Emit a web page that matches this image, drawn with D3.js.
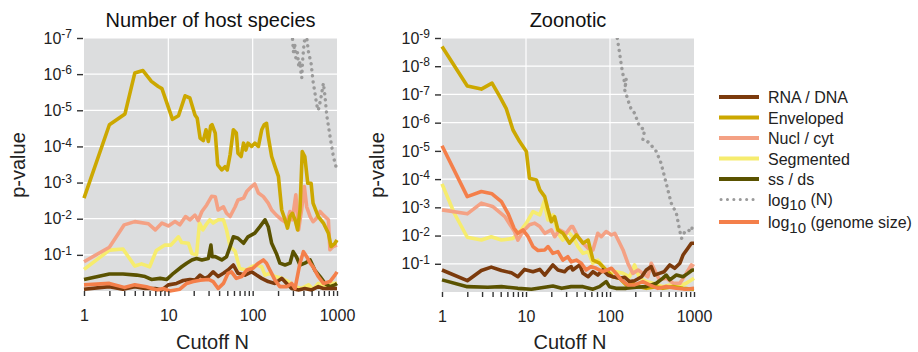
<!DOCTYPE html>
<html>
<head>
<meta charset="utf-8">
<script src="https://cdn.jsdelivr.net/npm/d3@7"></script>
<style>
  body { margin: 0; background: #fff; }
  text { font-family: "Liberation Sans", Arial, sans-serif; }
</style>
</head>
<body>
<div id="chart"></div>
<script>
// values are -log10(p), paired with cutoff N
const hostRnaDna = [[1,0.05],[2,0.12],[2.9,0.05],[4,0.12],[5.3,0.07],[7,0.07],[8.4,0.03],[10,0.17],[12.5,0.21],[15,0.29],[18,0.32],[20.7,0.3],[23.8,0.44],[27,0.35],[30,0.4],[34,0.53],[39,0.4],[45,0.49],[51,0.58],[59,0.72],[67,0.49],[81,0.44],[97,0.53],[111,0.44],[128,0.35],[153,0.26],[184,0.21],[221,0.35],[253,0.21],[290,0.07],[350,0.03],[415,0.07],[500,0.03],[600,0.12],[690,0.07],[825,0.07],[1000,0.07]];
const hostEnveloped = [[1,2.57],[2,4.6],[3.06,4.9],[4,6.03],[5,6.1],[6.3,5.8],[7.6,5.66],[8.4,5.6],[11.2,4.75],[13.2,4.85],[15.8,5.4],[18,5.34],[20.7,4.87],[22,4.78],[23.8,4.23],[26,4.16],[28,4.46],[29.8,4.14],[31.8,4.57],[33,4.6],[36,4.37],[38.5,3.49],[43,3.35],[47,3.44],[50,3.35],[54,3.77],[59,4.46],[64,4.37],[67,3.81],[73,3.72],[78,4.09],[83,3.9],[88,4.09],[97,4.0],[106,4.09],[117,4.0],[128,4.46],[137,4.6],[146,4.64],[153,4.27],[168,3.72],[184,3.44],[202,3.17],[221,2.24],[242,1.97],[259,1.74],[277,2.06],[295,2.15],[318,1.97],[341,1.69],[364,2.24],[387,3.86],[415,3.72],[450,2.98],[493,2.98],[520,2.43],[600,2.06],[690,1.88],[790,1.6],[850,1.23],[945,1.32],[1000,1.41]];
const hostNuclCyt = [[1,0.81],[2,1.21],[3,1.83],[4,1.92],[5.8,1.86],[7,1.69],[8.4,1.88],[10,1.8],[12,1.92],[13.7,1.83],[16,2.06],[18,1.97],[20.7,2.1],[22.6,1.95],[25,2.2],[28.5,2.38],[32.6,2.62],[36,2.61],[39,2.24],[45,2.33],[49,2.15],[54,2.06],[62,2.33],[67,2.52],[78,2.57],[85,2.75],[97,2.89],[106,2.96],[117,2.71],[134,2.61],[153,2.43],[168,2.24],[191,2.1],[221,1.97],[253,1.88],[277,2.2],[295,1.97],[325,2.66],[350,1.69],[380,2.24],[410,2.89],[437,2.33],[480,2.06],[520,1.92],[570,2.01],[630,2.2],[690,2.1],[790,1.97],[825,1.14],[900,1.23],[1000,1.27]];
const hostSegmented = [[1,0.6],[2,1.13],[2.9,1.16],[4,0.69],[4.8,0.75],[6,0.67],[7.2,1.12],[9.1,1.27],[10.7,1.27],[13.2,1.5],[14.4,1.34],[17.3,1.32],[19,1.04],[21.6,1.0],[23.4,1.88],[25.7,1.69],[28.5,1.86],[31,1.97],[34,1.88],[39,1.97],[45,1.97],[49,1.69],[54,1.23],[62,1.1],[70,0.62],[85,0.58],[97,0.67],[111,0.72],[128,0.67],[140,0.44],[160,0.49],[184,0.4],[221,0.35],[265,0.26],[318,0.12],[380,0.07],[460,0.17],[520,0.05],[600,0.21],[720,0.12],[870,0.21],[1000,0.21]];
const hostSsDs = [[1,0.32],[2,0.47],[2.9,0.47],[4.2,0.44],[5.3,0.4],[6.3,0.32],[8,0.35],[9.6,0.32],[11.5,0.49],[14.4,0.67],[16.5,0.77],[19,0.86],[21.6,0.9],[25,0.86],[29.8,0.9],[32,1.27],[33,0.95],[36,0.95],[43,0.86],[49,0.95],[54,1.23],[59,1.5],[67,1.46],[78,1.32],[88,1.5],[106,1.6],[122,1.78],[140,1.97],[153,1.78],[168,1.32],[191,1.04],[210,0.77],[242,0.72],[277,0.77],[302,1.09],[330,0.95],[364,0.72],[415,0.77],[480,0.86],[545,0.58],[630,0.4],[720,0.21],[825,0.12],[945,0.17],[1000,0.21]];
const hostLogN = [[285,7.3],[296,7.0],[305,6.6],[315,6.85],[325,6.45],[340,6.6],[352,6.2],[365,6.35],[375,6.0],[382,5.9],[392,6.4],[405,6.8],[420,7.1],[438,7.0],[460,6.6],[493,6.3],[520,5.8],[550,5.45],[575,5.15],[601,5.0],[640,5.3],[690,5.75],[720,5.4],[757,4.85],[828,4.27],[906,3.72],[995,3.35]];
const hostGenome = [[1,0.17],[2,0.21],[3,0.1],[4,0.17],[5.5,0.12],[7.3,0.03],[8.7,0.07],[10.4,0.0],[13.7,0.05],[16.5,0.21],[19.8,0.26],[23.8,0.3],[30,0.32],[34,0.26],[39,0.07],[45,0.21],[51,0.49],[56,0.53],[64,0.35],[74,0.4],[85,0.58],[101,0.63],[117,0.77],[134,0.86],[146,0.77],[160,0.58],[184,0.3],[210,0.12],[253,0.12],[290,0.21],[318,0.07],[364,0.77],[400,1.09],[437,0.95],[480,0.77],[520,0.67],[600,0.4],[690,0.21],[825,0.26],[945,0.44],[1000,0.53]];

const zooRnaDna = [[1,0.78],[2,0.4],[2.94,0.76],[3.86,0.88],[5.1,0.76],[6.7,0.68],[8,0.54],[9.6,0.8],[12.1,0.72],[14.6,0.8],[16.7,0.6],[20.9,0.96],[24,0.78],[28.8,0.72],[31.5,0.84],[34.5,0.9],[36,0.78],[43.6,0.96],[47.7,0.66],[54.9,0.54],[62.7,0.72],[71.6,0.6],[82,0.78],[94.5,0.6],[108,0.54],[130,0.49],[150,0.52],[171,0.37],[196,0.4],[238,0.54],[270,0.78],[310,0.9],[340,0.6],[387,0.66],[442,0.72],[515,0.96],[590,0.84],[680,1.02],[740,1.31],[845,1.55],[930,1.73],[1000,1.73]];
const zooEnveloped = [[1,8.7],[2,7.3],[2.94,7.19],[3.94,7.4],[4.86,6.93],[5.8,6.51],[7,5.74],[8.4,5.33],[10.1,4.98],[11,4.03],[13.3,3.97],[14.6,3.62],[16.7,3.38],[18.3,2.91],[20,2.49],[21.9,2.67],[24,2.2],[27.5,2.08],[33,1.73],[39.8,2.02],[47.7,1.73],[54.9,1.84],[62.7,1.13],[75,1.02],[90,0.78],[108,0.54],[130,0.49],[156,0.25],[187,0.31],[225,0.19],[270,0.13],[356,0.19],[427,0.13],[565,0.19],[740,0.13],[1000,0.1]];
const zooNuclCyt = [[1,2.91],[2,2.77],[2.94,3.15],[4,3.03],[5.6,2.67],[7.3,2.14],[8,1.84],[9.2,2.14],[11,2.38],[12.7,2.44],[14.6,2.32],[16.7,2.08],[20,2.2],[22,1.96],[25,2.2],[30,2.08],[34.5,2.32],[36,2.32],[41.5,1.96],[47.7,1.73],[54.9,1.55],[62.7,1.49],[71.6,2.08],[78.7,1.96],[90,2.14],[104,2.02],[114,2.08],[125,1.84],[143,1.49],[163,1.02],[187,0.66],[216,0.78],[246,0.66],[282,0.54],[310,1.02],[340,0.78],[387,0.43],[467,0.49],[565,0.31],[680,0.31],[808,0.66],[930,0.96],[1000,0.9]];
const zooSegmented = [[1,3.83],[1.4,2.79],[2,1.94],[2.94,1.84],[3.86,1.96],[5.1,1.84],[7,1.9],[8.8,2.2],[10.1,2.44],[12.1,2.85],[14.6,2.73],[16.4,3.2],[18.3,2.55],[20.9,2.73],[24,2.08],[27.5,1.84],[31.5,2.14],[36,1.96],[41.5,1.61],[47.7,1.37],[54.9,1.43],[62.7,1.02],[71.6,1.13],[82,0.9],[98.6,0.66],[118,0.72],[143,0.66],[171,0.54],[196,0.96],[225,0.49],[270,0.37],[325,0.31],[427,0.19],[515,0.25],[645,0.19],[808,0.31],[1000,0.49]];
const zooSsDs = [[1,0.43],[2,0.19],[3.5,0.17],[5.1,0.19],[8,0.13],[11.6,0.1],[16.7,0.17],[20.9,0.21],[26.6,0.13],[34.5,0.19],[47.7,0.19],[62.7,0.1],[75,0.19],[90,0.37],[98.6,0.19],[118,0.13],[156,0.13],[206,0.17],[270,0.19],[356,0.31],[427,0.49],[467,0.6],[515,0.43],[617,0.6],[740,0.54],[845,0.66],[955,0.78],[1000,0.78]];
const zooLogN = [[118,9.2],[122,9.0],[130,8.47],[137,8.0],[145,7.6],[152,7.3],[156,7.55],[150,7.15],[158,6.95],[163,6.81],[180,6.45],[196,6.34],[210,6.1],[225,5.86],[258,5.74],[246,5.39],[275,5.35],[296,5.27],[356,4.98],[406,4.56],[467,3.85],[535,3.15],[617,2.79],[680,2.14],[712,1.9],[778,2.14],[845,2.2],[930,2.14],[955,2.32]];
const zooGenome = [[1,5.18],[2,3.38],[2.94,3.56],[3.94,3.48],[5.1,3.2],[6.1,2.79],[7.2,2.26],[8,2.08],[9.2,2.2],[10.6,1.96],[12.1,1.61],[13.9,1.47],[16.7,1.49],[18.3,1.61],[20.9,1.37],[24,1.43],[27.5,1.13],[31.5,1.25],[34.5,1.07],[39.8,1.13],[45.5,1.02],[52,0.78],[59.7,0.9],[68.5,0.84],[82,0.72],[104,0.84],[118,0.66],[136,0.43],[163,0.25],[196,0.25],[246,0.37],[296,0.25],[372,0.13],[467,0.19],[617,0.13],[808,0.1],[1000,0.13]];

const seriesNames = ["RNA / DNA", "Enveloped", "Nucl / cyt", "Segmented", "ss / ds", "log10 (N)", "log10 (genome size)"];
const seriesColors = ["#7b3a0c", "#cca800", "#f4a184", "#f6ec6e", "#5a5200", "#9a9a9a", "#f47f4a"];
const xMajorTicks = [1, 10, 100, 1000];

const width = 918, height = 352;
const svg = d3.select("#chart").append("svg")
  .attr("width", width).attr("height", height);

const panels = [
  { id: "host", title: "Number of host species", x0: 84, x1: 337, y0: 38, y1: 291, maxExp: 7, ylabX: 25,
    series: [hostRnaDna, hostEnveloped, hostNuclCyt, hostSegmented, hostSsDs, hostLogN, hostGenome] },
  { id: "zoo", title: "Zoonotic", x0: 442, x1: 694, y0: 38, y1: 292, maxExp: 9, ylabX: 384,
    series: [zooRnaDna, zooEnveloped, zooNuclCyt, zooSegmented, zooSsDs, zooLogN, zooGenome] }
];

// minor ticks 1..9 for each decade
let xAllTicks = [];
for (let d = 1; d < 1000; d *= 10) for (let k = 1; k < 10; k++) xAllTicks.push(k * d);
xAllTicks.push(1000);

panels.forEach(p => {
  const g = svg.append("g");
  const x = d3.scaleLog().domain([1, 1000]).range([p.x0, p.x1]);
  const y = d3.scaleLinear().domain([0, p.maxExp]).range([p.y1, p.y0]);

  g.append("rect")
    .attr("x", p.x0).attr("y", p.y0)
    .attr("width", p.x1 - p.x0).attr("height", p.y1 - p.y0)
    .attr("fill", "#dcddde");

  g.selectAll(".hgrid").data(d3.range(1, p.maxExp + 1))
    .enter().append("line")
    .attr("x1", p.x0).attr("x2", p.x1)
    .attr("y1", d => y(d)).attr("y2", d => y(d))
    .attr("stroke", "#fff").attr("stroke-width", 1.2);
  g.selectAll(".vgrid").data([10, 100])
    .enter().append("line")
    .attr("x1", d => x(d)).attr("x2", d => x(d))
    .attr("y1", p.y0).attr("y2", p.y1)
    .attr("stroke", "#fff").attr("stroke-width", 1.2);

  svg.append("clipPath").attr("id", "clip-" + p.id)
    .append("rect")
    .attr("x", p.x0 - 4).attr("y", p.y0)
    .attr("width", p.x1 - p.x0 + 8).attr("height", p.y1 - p.y0 + 6);

  const line = d3.line()
    .x(d => x(d[0]))
    .y(d => y(d[1]));

  const lines = g.append("g").attr("clip-path", "url(#clip-" + p.id + ")");
  const order = [5, 3, 2, 1, 4, 0, 6];
  order.forEach(i => {
    const path = lines.append("path")
      .datum(p.series[i])
      .attr("fill", "none")
      .attr("stroke", seriesColors[i])
      .attr("stroke-linejoin", "round")
      .attr("d", line);
    if (i === 5) {
      path.attr("stroke-width", 3.4).attr("stroke-linecap", "round")
        .attr("stroke-dasharray", "0.1,6");
    } else {
      path.attr("stroke-width", 3.6);
    }
  });

  const xAxis = g.append("g")
    .attr("transform", "translate(0," + p.y1 + ")")
    .call(d3.axisBottom(x).tickValues(xAllTicks).tickSize(5).tickPadding(14)
      .tickFormat(d => xMajorTicks.includes(d) ? d : ""));
  xAxis.select(".domain").remove();
  xAxis.selectAll(".tick line").attr("stroke", "#333").attr("stroke-width", 1.4);
  xAxis.selectAll(".tick text").attr("font-size", 16).attr("fill", "#222")
    .attr("font-family", "'Liberation Sans', Arial, sans-serif");

  const yAxis = g.append("g")
    .attr("transform", "translate(" + (p.x0 - 1) + ",0)")
    .call(d3.axisLeft(y).tickValues(d3.range(1, p.maxExp + 1)).tickSize(6).tickPadding(5));
  yAxis.select(".domain").remove();
  yAxis.selectAll(".tick line").attr("stroke", "#333").attr("stroke-width", 1.4);
  yAxis.selectAll(".tick text")
    .attr("font-size", 16).attr("fill", "#222")
    .attr("font-family", "'Liberation Sans', Arial, sans-serif")
    .each(function(d) {
      const t = d3.select(this);
      t.text("10");
      t.append("tspan").attr("dy", "-0.45em").attr("font-size", 12).text("-" + d);
    });

  svg.append("text")
    .attr("x", (p.x0 + p.x1) / 2).attr("y", 27)
    .attr("text-anchor", "middle")
    .attr("font-family", "Lato, 'Open Sans', sans-serif")
    .attr("font-size", 20).attr("fill", "#111")
    .text(p.title);

  svg.append("text")
    .attr("x", (p.x0 + p.x1) / 2 + 2).attr("y", 349)
    .attr("text-anchor", "middle")
    .attr("font-size", 20).attr("fill", "#222")
    .text("Cutoff N");

  svg.append("text")
    .attr("transform", "translate(" + p.ylabX + ",165) rotate(-90)")
    .attr("text-anchor", "middle")
    .attr("font-size", 20).attr("fill", "#222")
    .text("p-value");
});

// legend
const legend = svg.append("g").attr("transform", "translate(719,97)");
seriesNames.forEach((name, i) => {
  const row = legend.append("g").attr("transform", "translate(0," + (i * 20.5 + (i === 6 ? 2 : 0)) + ")");
  const sw = row.append("line")
    .attr("x1", 0).attr("x2", 40).attr("y1", 0).attr("y2", 0)
    .attr("stroke", seriesColors[i]);
  if (i === 5) {
    sw.attr("stroke-width", 3).attr("stroke-linecap", "round").attr("stroke-dasharray", "0.1,6.3")
      .attr("x1", 2);
  } else {
    sw.attr("stroke-width", 4);
  }
  const t = row.append("text").attr("x", 49).attr("y", 6)
    .attr("font-size", 16).attr("fill", "#222");
  if (name.startsWith("log10")) {
    t.append("tspan").text("log");
    t.append("tspan").attr("dy", "0.3em").attr("font-size", 15).text("10");
    t.append("tspan").attr("dy", "-0.3em").text(name.slice(5));
  } else {
    t.text(name);
  }
});
</script>
</body>
</html>
